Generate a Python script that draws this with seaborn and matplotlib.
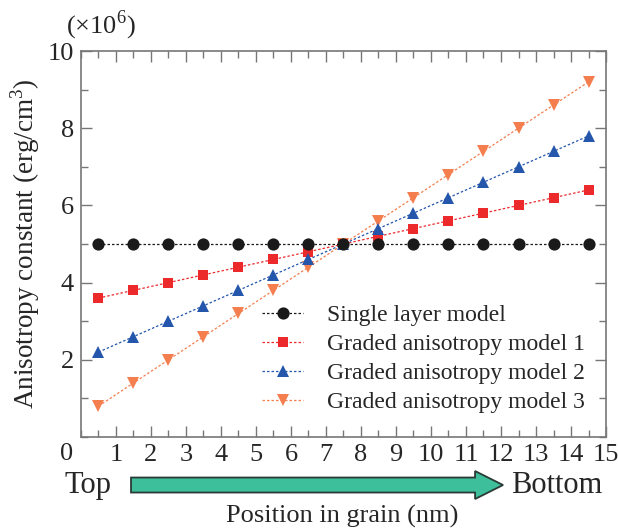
import numpy as np
import pandas as pd
import seaborn as sns
import matplotlib
matplotlib.use("Agg")
import matplotlib.pyplot as plt
from matplotlib.patches import FancyArrow
from matplotlib.ticker import MultipleLocator

position = [0.5, 1.5, 2.5, 3.5, 4.5, 5.5, 6.5, 7.5, 8.5, 9.5, 10.5, 11.5, 12.5, 13.5, 14.5]
single_layer = [5.0, 5.0, 5.0, 5.0, 5.0, 5.0, 5.0, 5.0, 5.0, 5.0, 5.0, 5.0, 5.0, 5.0, 5.0]
graded_1 = [3.6, 3.8, 4.0, 4.2, 4.4, 4.6, 4.8, 5.0, 5.2, 5.4, 5.6, 5.8, 6.0, 6.2, 6.4]
graded_2 = [2.2, 2.6, 3.0, 3.4, 3.8, 4.2, 4.6, 5.0, 5.4, 5.8, 6.2, 6.6, 7.0, 7.4, 7.8]
graded_3 = [0.8, 1.4, 2.0, 2.6, 3.2, 3.8, 4.4, 5.0, 5.6, 6.2, 6.8, 7.4, 8.0, 8.6, 9.2]
series_names = ["Single layer model", "Graded anisotropy model 1",
                "Graded anisotropy model 2", "Graded anisotropy model 3"]
x_ticks = [1, 2, 3, 4, 5, 6, 7, 8, 9, 10, 11, 12, 13, 14, 15]
y_ticks = [2, 4, 6, 8, 10]

sns.set_theme(style="ticks")
plt.rcParams['font.family'] = ['Liberation Serif', 'DejaVu Serif']
plt.rcParams['mathtext.fontset'] = 'custom'
plt.rcParams['mathtext.rm'] = 'Liberation Serif'

df = pd.DataFrame({
    "x": position * 4,
    "y": single_layer + graded_1 + graded_2 + graded_3,
    "series": sum([[n] * len(position) for n in series_names], []),
})

colors = ["#1a1a1a", "#ec2a2c", "#2456ac", "#f47e4e"]
markers = ["o", "s", "^", "v"]
msizes = [8.8, 7.4, 8.2, 8.2]
zorders = [5, 3, 4, 2]

fig = plt.figure(figsize=(6.18, 5.28), dpi=100)
ax = fig.add_axes([0.131, 0.1723, 0.8496, 0.7311])

for name, c, m, ms, z in zip(series_names, colors, markers, msizes, zorders):
    sub = df[df["series"] == name]
    sns.lineplot(data=sub, x="x", y="y", ax=ax, color=c, marker=m,
                 markersize=ms, markeredgewidth=0, linewidth=0.9,
                 linestyle=(0, (2, 1.6)), label=name, zorder=z)

ax.set_xlim(0, 15)
ax.set_ylim(0, 10)
ax.set_xticks(x_ticks)
ax.set_yticks(y_ticks)
ax.xaxis.set_minor_locator(MultipleLocator(0.5))
ax.yaxis.set_minor_locator(MultipleLocator(1))
ax.tick_params(which="both", direction="in", top=True, right=True,
               color="#777777", labelsize=19, pad=5)
ax.tick_params(which="major", length=8, width=1)
ax.tick_params(which="minor", length=5, width=1)
for s in ax.spines.values():
    s.set_color("#777777")
    s.set_linewidth(1.2)

ax.set_xlabel("")
ax.set_ylabel("Anisotropy constant (erg/cm$^3$)", fontsize=19.5)
ax.yaxis.set_label_coords(-0.074, 0.5)
fig.text(0.107, 0.953, "(×10$^6$)", fontsize=19, va="center", ha="left")

# shared origin label
fig.text(0.108, 0.140, "0", fontsize=19, ha="center", va="center")

leg = ax.legend(loc="upper left", bbox_to_anchor=(0.424, 0.4225),
                bbox_transform=fig.transFigure, frameon=False,
                fontsize=17, handlelength=1.75, handletextpad=1.0,
                labelspacing=0.31, borderpad=0, borderaxespad=0)

# arrow and labels below axis
fig.text(0.105, 1 - 493 / 528, "Top", fontsize=22, ha="left", va="baseline")
fig.text(0.975, 1 - 493 / 528, "Bottom", fontsize=22, ha="right", va="baseline")
arr = FancyArrow(0.212, 0.0814, 0.602, 0, width=0.0284, head_width=0.053,
                 head_length=0.0453, length_includes_head=True,
                 transform=fig.transFigure, facecolor="#3cbf9a",
                 edgecolor="#2a3a35", linewidth=1.3)
fig.patches.append(arr)
fig.text(0.554, 1 - 523 / 528, "Position in grain (nm)", fontsize=19,
         ha="center", va="baseline")

fig.savefig("out.png", dpi=100)
